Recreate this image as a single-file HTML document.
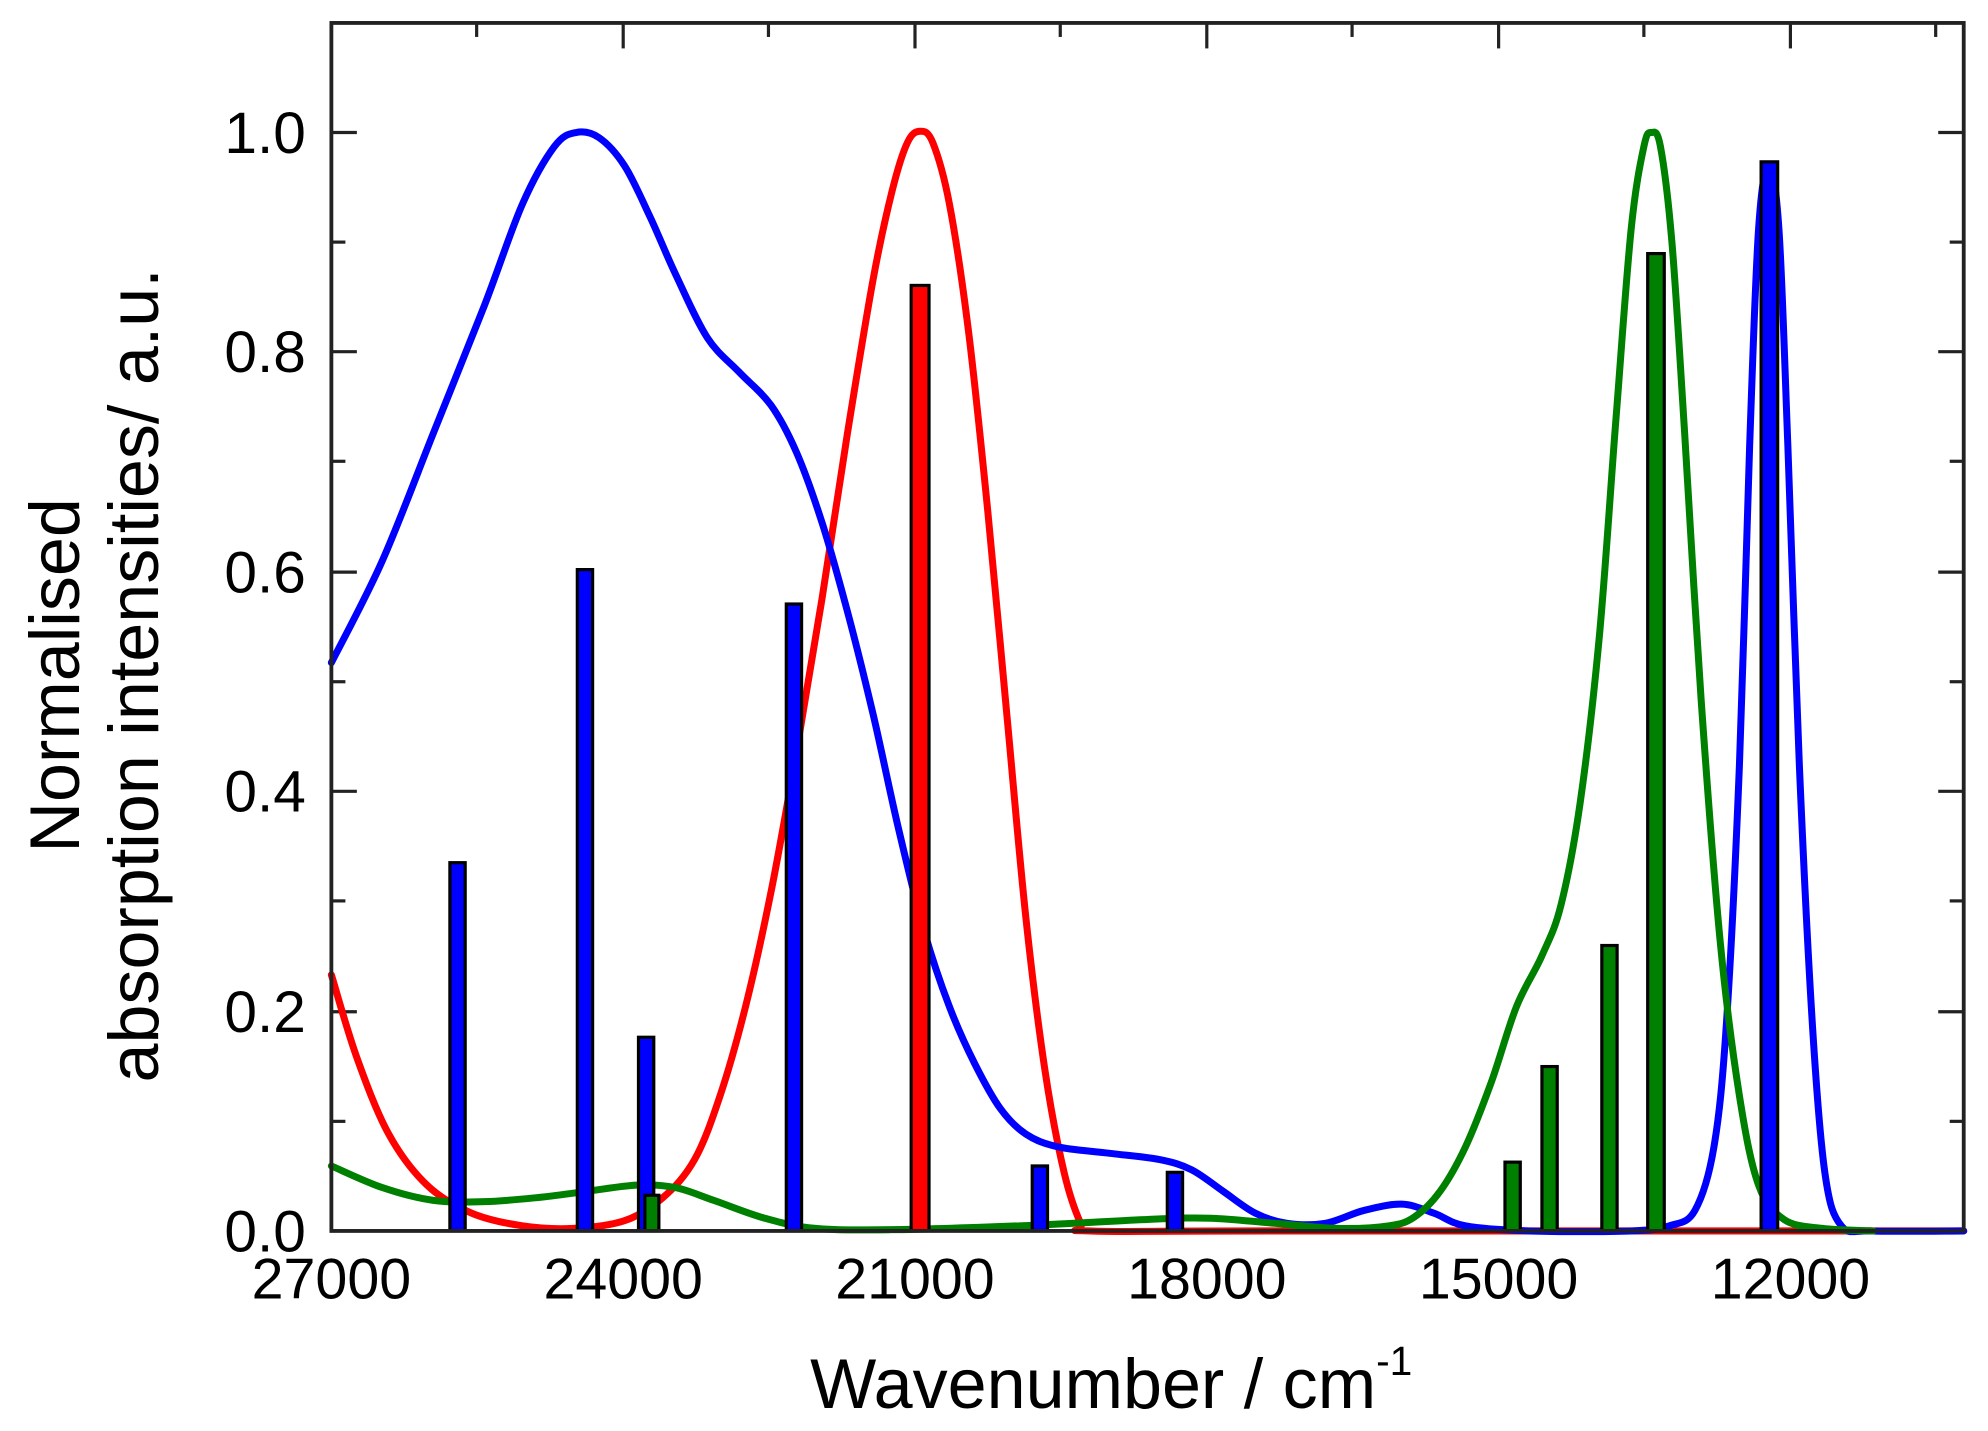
<!DOCTYPE html>
<html><head><meta charset="utf-8"><style>html,body{margin:0;padding:0;background:#fff}svg{display:block}</style></head>
<body>
<svg id="s" width="1988" height="1431" viewBox="0 0 1560 1123" xmlns="http://www.w3.org/2000/svg" font-family="Liberation Sans, Arial, sans-serif">
<rect width="1560" height="1123" fill="#fff"/>
<g stroke="#222" stroke-width="2.5">
<line x1="260" y1="104" x2="280" y2="104"/><line x1="260" y1="276" x2="280" y2="276"/><line x1="260" y1="449" x2="280" y2="449"/><line x1="260" y1="621" x2="280" y2="621"/><line x1="260" y1="794" x2="280" y2="794"/>
<line x1="260" y1="190" x2="271" y2="190"/><line x1="260" y1="362" x2="271" y2="362"/><line x1="260" y1="535" x2="271" y2="535"/><line x1="260" y1="707" x2="271" y2="707"/><line x1="260" y1="880" x2="271" y2="880"/>
<line x1="1541" y1="104" x2="1521" y2="104"/><line x1="1541" y1="276" x2="1521" y2="276"/><line x1="1541" y1="449" x2="1521" y2="449"/><line x1="1541" y1="621" x2="1521" y2="621"/><line x1="1541" y1="794" x2="1521" y2="794"/>
<line x1="1541" y1="190" x2="1530" y2="190"/><line x1="1541" y1="362" x2="1530" y2="362"/><line x1="1541" y1="535" x2="1530" y2="535"/><line x1="1541" y1="707" x2="1530" y2="707"/><line x1="1541" y1="880" x2="1530" y2="880"/>
<line x1="489" y1="18" x2="489" y2="38"/><line x1="718" y1="18" x2="718" y2="38"/><line x1="947" y1="18" x2="947" y2="38"/><line x1="1176" y1="18" x2="1176" y2="38"/><line x1="1405" y1="18" x2="1405" y2="38"/>
<line x1="374" y1="18" x2="374" y2="29"/><line x1="603" y1="18" x2="603" y2="29"/><line x1="832" y1="18" x2="832" y2="29"/><line x1="1061" y1="18" x2="1061" y2="29"/><line x1="1290" y1="18" x2="1290" y2="29"/><line x1="1519" y1="18" x2="1519" y2="29"/>
</g>
<g fill="none" stroke-width="5.5" stroke-linejoin="round" stroke-linecap="round">
<path id="red" stroke="#ff0000"/>
<path id="blue" stroke="#0000ff"/>
<path id="green" stroke="#008000"/>
</g>
<g stroke="#000" stroke-width="2.5">
<rect x="353" y="677" width="12" height="289" fill="#0000ff"/>
<rect x="453" y="447" width="12" height="519" fill="#0000ff"/>
<rect x="501" y="814" width="12" height="152" fill="#0000ff"/>
<rect x="506" y="938" width="11" height="28" fill="#008000"/>
<rect x="617" y="474" width="12" height="492" fill="#0000ff"/>
<rect x="715" y="224" width="14" height="742" fill="#ff0000"/>
<rect x="810" y="915" width="12" height="51" fill="#0000ff"/>
<rect x="916" y="920" width="12" height="46" fill="#0000ff"/>
<rect x="1181" y="912" width="12" height="54" fill="#008000"/>
<rect x="1210" y="837" width="12" height="129" fill="#008000"/>
<rect x="1257" y="742" width="12" height="224" fill="#008000"/>
<rect x="1293" y="199" width="13" height="767" fill="#008000"/>
<rect x="1382" y="127" width="13" height="839" fill="#0000ff"/>
</g>
<rect x="260" y="18" width="1281" height="948" fill="none" stroke="#222" stroke-width="3"/>
<g font-size="46" fill="#000" text-anchor="end">
<text x="240" y="120">1.0</text><text x="240" y="292">0.8</text><text x="240" y="465">0.6</text><text x="240" y="637">0.4</text><text x="240" y="810">0.2</text><text x="240" y="982">0.0</text>
</g>
<g font-size="45" fill="#000" text-anchor="middle">
<text x="260" y="1019">27000</text><text x="489" y="1019">24000</text><text x="718" y="1019">21000</text><text x="947" y="1019">18000</text><text x="1176" y="1019">15000</text><text x="1405" y="1019">12000</text>
</g>
<text x="872" y="1105" font-size="55" text-anchor="middle">Wavenumber / cm<tspan font-size="32" dy="-26">-1</tspan></text>
<g font-size="55" text-anchor="middle">
<text transform="translate(62,530) rotate(-90)">Normalised</text>
<text transform="translate(124,530) rotate(-90)">absorption intensities/ a.u.</text>
</g>
</svg>
<script>
function cr(p){var d="M"+p[0][0]+","+p[0][1];for(var i=0;i<p.length-1;i++){var p0=p[i-1]||p[i],p1=p[i],p2=p[i+1],p3=p[i+2]||p2;
d+=" C"+(p1[0]+(p2[0]-p0[0])/6).toFixed(1)+","+(p1[1]+(p2[1]-p0[1])/6).toFixed(1)+" "+(p2[0]-(p3[0]-p1[0])/6).toFixed(1)+","+(p2[1]-(p3[1]-p1[1])/6).toFixed(1)+" "+p2[0]+","+p2[1];}return d;}
var B=[[260,520],[300,440],[340,340],[380,240],[410,160],[435,115],[452,104],[470,108],[490,130],[510,170],[530,215],[555,265],[580,292],[605,318],[625,355],[645,410],[665,480],[685,560],[705,650],[725,730],[745,790],[765,835],[785,870],[805,890],[830,900],[870,905],[910,910],[935,918],[960,935],[985,952],[1010,960],[1040,960],[1070,950],[1100,945],[1125,952],[1150,962],[1200,966],[1280,966],[1310,962],[1330,950],[1345,900],[1355,800],[1365,600],[1373,350],[1380,180],[1388,130],[1396,180],[1403,350],[1412,600],[1422,800],[1432,920],[1445,962],[1470,966],[1541,966]];
var G=[[260,915],[300,932],[340,942],[380,943],[420,940],[460,935],[500,930],[530,932],[560,942],[600,956],[640,964],[700,965],[800,962],[900,957],[950,956],[1000,960],[1050,964],[1090,962],[1110,955],[1130,935],[1150,900],[1170,850],[1190,790],[1210,750],[1225,710],[1240,630],[1255,500],[1268,330],[1280,180],[1290,115],[1296,104],[1303,115],[1312,190],[1322,340],[1335,550],[1350,740],[1365,860],[1380,930],[1400,957],[1430,964],[1470,966]];
var R=[[260,765],[280,830],[305,890],[335,930],[370,952],[410,962],[450,964],[490,958],[520,940],[545,910],[565,860],[585,790],[605,700],[625,590],[645,470],[665,340],[685,220],[700,150],[712,112],[722,103],[732,112],[745,160],[760,260],[775,400],[790,560],[805,720],[820,840],[835,920],[848,960],[856,966],[1000,966],[1541,966]];
document.getElementById("blue").setAttribute("d",cr(B));
document.getElementById("green").setAttribute("d",cr(G));
document.getElementById("red").setAttribute("d",cr(R));
</script>
</body></html>
